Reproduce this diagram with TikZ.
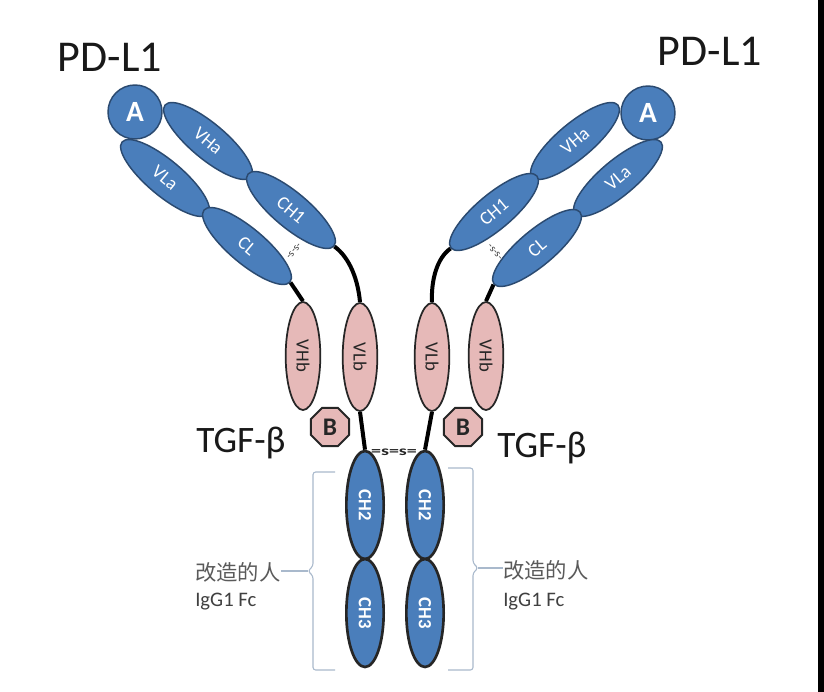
\documentclass[tikz,border=0pt]{standalone}
\usepackage{fontspec}
\setmainfont{Carlito}
\newfontfamily\cjk{Noto Sans CJK SC}
\usetikzlibrary{shapes.geometric}
\definecolor{dblue}{HTML}{4A7EBB}
\definecolor{dbord}{HTML}{2B4A70}
\definecolor{pinkf}{HTML}{E6B9B8}
\definecolor{brk}{HTML}{A9B9CC}
\definecolor{txtg}{HTML}{5A5A5A}
\pgfdeclarelayer{back}
\pgfdeclarelayer{bg}
\pgfsetlayers{back,bg,main}
\begin{document}
\begin{tikzpicture}[x=0.75pt,y=-0.75pt,
  armell/.style={ellipse, draw=dbord, line width=1.1pt, fill=dblue, text=white,
    minimum width=84pt, minimum height=26.5pt, inner sep=0pt,
    font=\fontsize{14}{14}\selectfont},
  pinkell/.style={ellipse, draw=black!85, line width=1.3pt, fill=pinkf, text=black!85,
    minimum width=81pt, minimum height=26pt, rotate=-90, inner sep=0pt,
    font=\fontsize{14}{14}\selectfont},
  fcell/.style={ellipse, draw=black!85, line width=2pt, fill=dblue, text=white,
    minimum width=81pt, minimum height=28pt, rotate=-90, inner sep=0pt,
    font=\fontsize{14}{14}\bfseries\selectfont},
  adom/.style={circle, draw=dbord, line width=1.1pt, fill=dblue, text=white,
    minimum size=40.5pt, inner sep=0pt, font=\fontsize{22}{22}\bfseries\selectfont},
  bdom/.style={regular polygon, regular polygon sides=8, draw=black!85, line width=1.5pt,
    fill=pinkf, minimum size=31pt, inner sep=0pt, text=black!85,
    font=\fontsize{19}{19}\bfseries\selectfont},
  chain/.style={line width=3pt, black},
  bigtxt/.style={anchor=base, inner sep=0pt, text=black!90},
  ssbond/.style={inner sep=0pt, text=black!75, font=\fontsize{8}{8}\selectfont},
  bracket/.style={draw=brk, line width=0.8pt, rounded corners=2pt},
  cntxt/.style={anchor=base west, inner sep=0pt, text=txtg, font=\cjk\fontsize{16}{16}\selectfont},
  fctxt/.style={anchor=base west, inner sep=0pt, text=black!75, font=\fontsize{15.5}{15.5}\selectfont}
]
\useasboundingbox (0,0) rectangle (824,692);
\begin{pgfonlayer}{back}
\fill[white] (0,0) rectangle (824,692);
\fill[black] (818,0) rectangle (824,692);
\end{pgfonlayer}

% labels
\node[bigtxt, font=\fontsize{33}{33}\selectfont] (pdl) at (110,72) {PD-L1};
\node[bigtxt, font=\fontsize{33}{33}\selectfont] (pdr) at (710,65) {PD-L1};
\node[bigtxt, font=\fontsize{28}{28}\selectfont] (tgfl) at (241,452) {TGF-β};
\node[bigtxt, font=\fontsize{28}{28}\selectfont] (tgfr) at (542,457) {TGF-β};

% left arm
\node[adom] (al) at (135,112) {A};
\node[armell, rotate=-40] (vhal) at (208,141) {VHa};
\node[armell, rotate=-40] (ch1l) at (291,210) {CH1};
\node[armell, rotate=-40] (vlal) at (165,178) {VLa};
\node[armell, rotate=-40] (cll) at (247,246) {CL};
\node[ssbond, rotate=50] (ssl) at (294,251) {-s-s-};

% right arm
\node[adom] (ar) at (648,113) {A};
\node[armell, rotate=40] (vhar) at (575,141) {VHa};
\node[armell, rotate=40] (ch1r) at (494,212) {CH1};
\node[armell, rotate=40] (vlar) at (618,178) {VLa};
\node[armell, rotate=40] (clr) at (537,248) {CL};
\node[ssbond, rotate=-50] (ssr) at (495,252) {-s-s-};

% pink scFv domains
\node[pinkell] (vhbl) at (303,356) {VHb};
\node[pinkell] (vlbl) at (360,357) {VLb};
\node[pinkell] (vlbr) at (432,357) {VLb};
\node[pinkell] (vhbr) at (486,356) {VHb};

% TGF-beta trap
\node[bdom] (bl) at (330,427) {B};
\node[bdom] (br) at (463,427) {B};

% Fc
\node[fcell] (ch2l) at (365,505) {CH2};
\node[fcell] (ch3l) at (365,613) {CH3};
\node[fcell] (ch2r) at (425,505) {CH2};
\node[fcell] (ch3r) at (425,613) {CH3};
\node[inner sep=0pt, text=black!85, xscale=1.5, font=\fontsize{10}{10}\bfseries\selectfont] (hinge) at (394,452) {=s=s=};

% chains
\begin{pgfonlayer}{bg}
\draw[chain] (cll.east) -- (vhbl.west);
\draw[chain] (ch1l.east) .. controls (350,258) and (358,280) .. (vlbl.west);
\draw[chain] (vlbl.east) -- (ch2l.west);
\draw[chain] (clr.west) -- (vhbr.west);
\draw[chain] (ch1r.west) .. controls (437,258) and (431,280) .. (vlbr.west);
\draw[chain] (vlbr.east) -- (ch2r.west);
\end{pgfonlayer}

% brackets and Fc labels
\node[cntxt] (cnl) at (195,580) {改造的人};
\node[fctxt] (fcl) at (195,606) {IgG1 Fc};
\node[cntxt] (cnr) at (503,578) {改造的人};
\node[fctxt] (fcr) at (503,606) {IgG1 Fc};
\coordinate (tipl) at (308,571);
\coordinate (tipr) at (478,568);
\draw[bracket] (335,472) -- (313,472) -- (313,566) -- (tipl) -- (313,576) -- (313,670) -- (335,670);
\draw[bracket] (448,468) -- (473,468) -- (473,563) -- (tipr) -- (473,573) -- (473,670) -- (448,670);
\draw[brk, line width=0.8pt] (tipl) -- (cnl.east |- tipl);
\draw[brk, line width=0.8pt] (tipr) -- (cnr.west |- tipr);
\end{tikzpicture}
\end{document}
